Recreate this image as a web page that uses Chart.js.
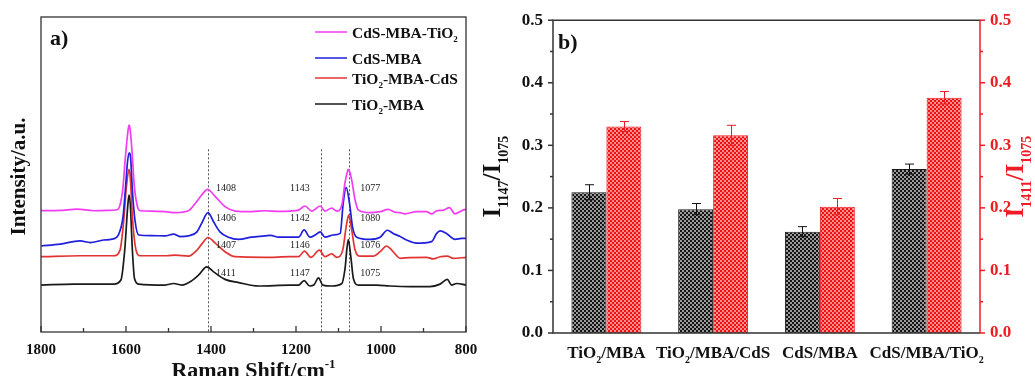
<!DOCTYPE html>
<html>
<head>
<meta charset="utf-8">
<script src="https://cdn.jsdelivr.net/npm/chart.js@4.4.1/dist/chart.umd.min.js"></script>
<style>
  body { margin: 0; background: #fff; }
  #spectra { position: absolute; left: 0; top: 0; }
  #ratios { position: absolute; left: 470px; top: 0; }
</style>
</head>
<body>
<canvas id="spectra" width="520" height="376"></canvas>
<canvas id="ratios" width="565" height="376"></canvas>
<script>
// ---- panel a: Raman spectra, [wavenumber, intensity (a.u.)]
const cdsMbaTio2 = [[1800,38.5],[1755,38.6],[1715,39.0],[1676,38.5],[1645,38.6],[1621,38.8],[1614,40.3],[1607,46.1],[1602,54.6],[1596,63.1],[1593,65.7],[1590,64.1],[1585,55.7],[1581,47.2],[1574,40.3],[1567,38.5],[1540,38.4],[1508,38.2],[1484,37.9],[1453,38.5],[1437,40.8],[1422,43.5],[1408,45.3],[1390,43.0],[1367,39.8],[1343,38.4],[1304,38.2],[1273,38.5],[1240,38.3],[1214,38.4],[1194,38.7],[1179,40.0],[1163,38.4],[1143,40.0],[1132,38.4],[1116,39.3],[1104,38.4],[1092,40.3],[1085,47.2],[1079,50.9],[1077,51.6],[1074,51.0],[1069,48.3],[1061,41.9],[1053,38.7],[1026,37.9],[1002,38.2],[983,38.9],[966,38.0],[955,37.9],[944,37.5],[916,38.2],[893,38.2],[881,37.5],[869,38.5],[853,38.7],[839,39.5],[826,37.5],[810,38.5],[800,39.0]];
const cdsMba = [[1800,27.3],[1755,27.9],[1708,28.9],[1684,28.4],[1653,29.2],[1633,29.5],[1617,31.1],[1607,36.6],[1601,46.1],[1596,54.6],[1592,56.9],[1589,55.1],[1585,45.1],[1579,35.6],[1570,30.8],[1540,30.6],[1508,30.5],[1488,31.1],[1473,30.3],[1453,30.5],[1433,31.8],[1422,34.5],[1407,37.9],[1394,35.0],[1379,31.8],[1359,30.1],[1335,29.4],[1304,30.1],[1273,30.5],[1260,30.7],[1241,30.1],[1214,30.1],[1194,30.1],[1181,32.4],[1167,30.1],[1155,30.8],[1143,31.8],[1132,30.1],[1112,30.8],[1096,31.3],[1089,40.8],[1082,45.9],[1074,40.8],[1067,33.4],[1057,30.1],[1026,29.4],[1002,30.1],[985,32.3],[970,31.2],[955,30.3],[940,29.2],[916,28.2],[881,28.7],[869,31.3],[861,32.1],[846,31.3],[826,29.4],[810,29.7],[800,29.7]];
const tio2MbaCds = [[1800,23.9],[1708,24.2],[1629,24.2],[1614,26.0],[1606,34.5],[1599,46.1],[1593,51.6],[1590,49.3],[1585,36.6],[1578,27.1],[1567,24.2],[1504,24.2],[1484,24.4],[1453,24.1],[1433,26.0],[1420,28.2],[1407,30.0],[1390,28.2],[1367,25.5],[1343,23.9],[1273,23.7],[1214,23.9],[1194,23.9],[1180,25.7],[1165,23.7],[1145,26.0],[1132,23.9],[1116,24.8],[1104,23.7],[1090,26.0],[1082,33.4],[1076,37.1],[1069,32.4],[1061,26.0],[1049,24.1],[1018,24.1],[1002,25.5],[987,27.3],[979,26.6],[967,24.8],[955,23.4],[932,23.6],[893,23.7],[877,23.2],[861,23.9],[844,24.1],[830,23.4],[800,23.7]];
const tio2Mba = [[1800,14.9],[1723,15.2],[1629,15.2],[1612,16.5],[1603,26.0],[1596,39.8],[1593,43.5],[1590,40.8],[1585,26.0],[1580,17.0],[1570,15.2],[1508,14.9],[1488,15.4],[1469,14.9],[1445,16.3],[1429,18.1],[1410,20.7],[1394,19.1],[1367,16.7],[1335,15.7],[1288,14.6],[1214,14.9],[1194,14.9],[1181,16.3],[1168,14.6],[1158,14.9],[1147,17.2],[1137,14.9],[1116,14.6],[1092,15.4],[1085,19.7],[1077,29.3],[1071,23.9],[1065,17.0],[1053,14.9],[1010,14.9],[979,14.6],[932,14.4],[885,14.4],[861,15.2],[844,16.7],[834,14.9],[822,15.4],[800,14.9]];

const spectraNames = ['CdS-MBA-TiO₂', 'CdS-MBA', 'TiO₂-MBA-CdS', 'TiO₂-MBA'];
const spectraColors = ['#f23cf2', '#1f1fdc', '#e33434', '#1a1a1a'];

// dashed guide lines and peak labels
const guideLines = [1408, 1142, 1075];
const peakCols = [1388, 1214, 1049];
const peakRows = [46.0, 36.4, 28.0, 19.0];
const peakText = [
  ['1408', '1406', '1407', '1411'],
  ['1143', '1142', '1146', '1147'],
  ['1077', '1080', '1076', '1075']
];

// ---- panel b: intensity ratios
const samples = ['TiO₂/MBA', 'TiO₂/MBA/CdS', 'CdS/MBA', 'CdS/MBA/TiO₂'];
const ratio1147 = [0.225, 0.198, 0.162, 0.262];
const err1147 = [0.012, 0.009, 0.008, 0.008];
const ratio1411 = [0.330, 0.316, 0.202, 0.376];
const err1411 = [0.008, 0.016, 0.013, 0.010];

const SERIF = '"Liberation Serif", "DejaVu Serif", serif';
const RED = '#ee1c24';

// draw text where ₀-₉ become lowered small digits and ⁻¹ raised ones
const subs = '₀₁₂₃₄₅₆₇₈₉', sups = '⁰¹²³⁴⁵⁶⁷⁸⁹';
function richParts(str) {
  const out = [];
  for (const ch of str) {
    let kind = 'n', c = ch;
    if (subs.includes(ch)) { kind = 'sub'; c = String(subs.indexOf(ch)); }
    else if (sups.includes(ch)) { kind = 'sup'; c = String(sups.indexOf(ch)); }
    else if (ch === '⁻') { kind = 'sup'; c = '-'; }
    const last = out[out.length - 1];
    if (last && last.kind === kind) last.t += c; else out.push({ kind, t: c });
  }
  return out;
}
function drawRich(ctx, str, x, y, size, color, align, ratio, weight) {
  ratio = ratio || 0.6;
  weight = weight || 'bold';
  const parts = richParts(str);
  const fontOf = p => weight + ' ' + (p.kind === 'n' ? size : Math.round(size * ratio)) + 'px ' + SERIF;
  let w = 0;
  parts.forEach(p => { ctx.font = fontOf(p); p.w = ctx.measureText(p.t).width; w += p.w; });
  let cx = align === 'center' ? x - w / 2 : align === 'right' ? x - w : x;
  ctx.save();
  ctx.fillStyle = color;
  ctx.textAlign = 'left';
  ctx.textBaseline = 'alphabetic';
  parts.forEach(p => {
    ctx.font = fontOf(p);
    let dy = 0;
    if (p.kind === 'sub') dy = size * 0.3;
    if (p.kind === 'sup') dy = -size * 0.42;
    ctx.fillText(p.t, cx, y + dy);
    cx += p.w;
  });
  ctx.restore();
}

// ---------------- panel a ----------------
const spectraSets = [cdsMbaTio2, cdsMba, tio2MbaCds, tio2Mba].map((s, i) => ({
  label: spectraNames[i],
  data: s.map(p => ({ x: p[0], y: p[1] })),
  borderColor: spectraColors[i],
  borderWidth: 1.7,
  pointRadius: 0,
  cubicInterpolationMode: 'monotone',
  fill: false
}));

const spectraDecor = {
  id: 'spectraDecor',
  beforeDatasetsDraw(chart) {
    const { ctx, chartArea: a, scales: { x, y } } = chart;
    ctx.save();
    ctx.strokeStyle = '#555';
    ctx.lineWidth = 1;
    ctx.setLineDash([2, 2]);
    guideLines.forEach(w => {
      const px = Math.round(x.getPixelForValue(w)) + 0.5;
      ctx.beginPath();
      ctx.moveTo(px, y.getPixelForValue(58));
      ctx.lineTo(px, a.bottom);
      ctx.stroke();
    });
    ctx.restore();
  },
  afterDraw(chart) {
    const { ctx, chartArea: a, scales: { x, y } } = chart;
    ctx.save();
    // frame
    ctx.strokeStyle = '#333';
    ctx.lineWidth = 1.3;
    ctx.strokeRect(a.left, a.top, a.right - a.left, a.bottom - a.top);
    // inward ticks on the bottom axis
    for (let w = 800; w <= 1800; w += 100) {
      const px = x.getPixelForValue(w);
      const len = w % 200 === 0 ? 6 : 4;
      ctx.beginPath();
      ctx.moveTo(px, a.bottom);
      ctx.lineTo(px, a.bottom - len);
      ctx.stroke();
    }
    ctx.restore();

    // peak labels
    peakText.forEach((col, ci) => {
      col.forEach((t, ri) => {
        drawRich(ctx, t, x.getPixelForValue(peakCols[ci]), y.getPixelForValue(peakRows[ri]) + 4, 10, '#222', 'left', 0.6, 'normal');
      });
    });

    // legend
    const legY = [32, 58, 78, 104];
    chart.data.datasets.forEach((ds, i) => {
      ctx.save();
      ctx.strokeStyle = ds.borderColor;
      ctx.lineWidth = 1.5;
      ctx.beginPath();
      ctx.moveTo(315, legY[i]);
      ctx.lineTo(347, legY[i]);
      ctx.stroke();
      ctx.restore();
      drawRich(ctx, ds.label, 352, legY[i] + 5.5, 15.5, '#111', 'left', 0.55);
    });

    drawRich(ctx, 'a)', 50, 45, 22, '#111', 'left');
    drawRich(ctx, 'Raman Shift/cm⁻¹', (a.left + a.right) / 2, 377, 22, '#111', 'center', 0.6);
    ctx.save();
    ctx.translate(25, (a.top + a.bottom) / 2 + 2);
    ctx.rotate(-Math.PI / 2);
    drawRich(ctx, 'Intensity/a.u.', 0, 0, 21, '#111', 'center');
    ctx.restore();
  }
};

new Chart(document.getElementById('spectra'), {
  type: 'line',
  data: { datasets: spectraSets },
  options: {
    responsive: false,
    animation: false,
    layout: { padding: { left: 41, right: 54, top: 17, bottom: 0 } },
    plugins: { legend: { display: false }, tooltip: { enabled: false } },
    scales: {
      x: {
        type: 'linear', reverse: true, min: 800, max: 1800,
        ticks: { stepSize: 200, color: '#111', padding: 9, maxRotation: 0, font: { family: SERIF, size: 15, weight: 'bold' }, callback: v => String(v) },
        grid: { display: false, drawTicks: false },
        border: { display: false },
        afterFit: s => { s.height = 44; }
      },
      y: { display: false, min: 0, max: 100 }
    }
  },
  plugins: [spectraDecor]
});

// ---------------- panel b ----------------
function checker(c1, c2) {
  const c = document.createElement('canvas');
  c.width = 4; c.height = 4;
  const g = c.getContext('2d');
  g.fillStyle = c1; g.fillRect(0, 0, 4, 4);
  g.fillStyle = c2; g.fillRect(0, 0, 2, 2); g.fillRect(2, 2, 2, 2);
  return g.createPattern(c, 'repeat');
}

const ratioDecor = {
  id: 'ratioDecor',
  afterDatasetsDraw(chart) {
    const { ctx } = chart;
    const errs = [err1147, err1411];
    const cols = ['#111', RED];
    chart.data.datasets.forEach((ds, di) => {
      const sc = chart.scales[ds.yAxisID];
      chart.getDatasetMeta(di).data.forEach((bar, i) => {
        const v = ds.data[i], e = errs[di][i];
        const yt = sc.getPixelForValue(v + e), yb = sc.getPixelForValue(v - e);
        const bx = Math.round(bar.x) + 0.5;
        ctx.save();
        ctx.strokeStyle = cols[di];
        ctx.lineWidth = 1;
        ctx.beginPath();
        ctx.moveTo(bx, yt); ctx.lineTo(bx, yb);
        ctx.moveTo(bx - 4.5, yt); ctx.lineTo(bx + 4.5, yt);
        ctx.moveTo(bx - 4.5, yb); ctx.lineTo(bx + 4.5, yb);
        ctx.stroke();
        ctx.restore();
      });
    });
  },
  afterDraw(chart) {
    const { ctx, chartArea: a, scales: { x, y, y1 } } = chart;
    ctx.save();
    ctx.lineWidth = 1.5;
    ctx.strokeStyle = '#333';
    ctx.beginPath();
    ctx.moveTo(a.right, a.top); ctx.lineTo(a.left, a.top);
    ctx.lineTo(a.left, a.bottom); ctx.lineTo(a.right, a.bottom);
    ctx.stroke();
    for (let k = 0; k <= 10; k++) {
      const v = k * 0.05, py = y.getPixelForValue(v);
      const len = k % 2 === 0 ? 5 : 3;
      ctx.beginPath(); ctx.moveTo(a.left - len, py); ctx.lineTo(a.left, py); ctx.stroke();
    }
    ctx.strokeStyle = RED;
    ctx.beginPath(); ctx.moveTo(a.right, a.top); ctx.lineTo(a.right, a.bottom); ctx.stroke();
    for (let k = 0; k <= 10; k++) {
      const v = k * 0.05, py = y1.getPixelForValue(v);
      const len = k % 2 === 0 ? 5 : 3;
      ctx.beginPath(); ctx.moveTo(a.right, py); ctx.lineTo(a.right + len, py); ctx.stroke();
    }
    ctx.restore();

    chart.data.labels.forEach((lab, i) => {
      drawRich(ctx, lab, x.getPixelForValue(i), 358, 17, '#111', 'center', 0.6);
    });

    drawRich(ctx, 'b)', a.left + 5, 49, 22, '#111', 'left');

    ctx.save();
    ctx.translate(30, (a.top + a.bottom) / 2);
    ctx.rotate(-Math.PI / 2);
    drawRich(ctx, 'I₁₁₄₇/I₁₀₇₅', 0, 0, 25, '#111', 'center', 0.55);
    ctx.restore();

    ctx.save();
    ctx.translate(553, (a.top + a.bottom) / 2);
    ctx.rotate(-Math.PI / 2);
    drawRich(ctx, 'I₁₄₁₁/I₁₀₇₅', 0, 0, 25, RED, 'center', 0.55);
    ctx.restore();
  }
};

const tickFont = { family: SERIF, size: 17, weight: 'bold' };

new Chart(document.getElementById('ratios'), {
  type: 'bar',
  data: {
    labels: samples,
    datasets: [
      { label: 'I1147/I1075', data: ratio1147, yAxisID: 'y', backgroundColor: checker('#9a9a9a', '#141414'), borderColor: '#1a1a1a', borderWidth: 1 },
      { label: 'I1411/I1075', data: ratio1411, yAxisID: 'y1', backgroundColor: checker('#ff8f8f', '#ee1111'), borderColor: RED, borderWidth: 1 }
    ]
  },
  options: {
    responsive: false,
    animation: false,
    layout: { padding: { left: 0, right: 0, top: 19, bottom: 0 } },
    datasets: { bar: { categoryPercentage: 0.655, barPercentage: 1.0 } },
    plugins: { legend: { display: false }, tooltip: { enabled: false } },
    scales: {
      x: {
        ticks: { display: false },
        grid: { display: false, drawTicks: false },
        border: { display: false },
        afterFit: s => { s.height = 43; }
      },
      y: {
        position: 'left', min: 0, max: 0.5,
        ticks: { stepSize: 0.1, color: '#111', padding: 10, font: tickFont, callback: v => v.toFixed(1) },
        grid: { display: false, drawTicks: false },
        border: { display: false },
        afterFit: s => { s.width = 83; }
      },
      y1: {
        position: 'right', min: 0, max: 0.5,
        ticks: { stepSize: 0.1, color: RED, padding: 10, font: tickFont, callback: v => v.toFixed(1) },
        grid: { display: false, drawTicks: false },
        border: { display: false },
        afterFit: s => { s.width = 55; }
      }
    }
  },
  plugins: [ratioDecor]
});
</script>
</body>
</html>
